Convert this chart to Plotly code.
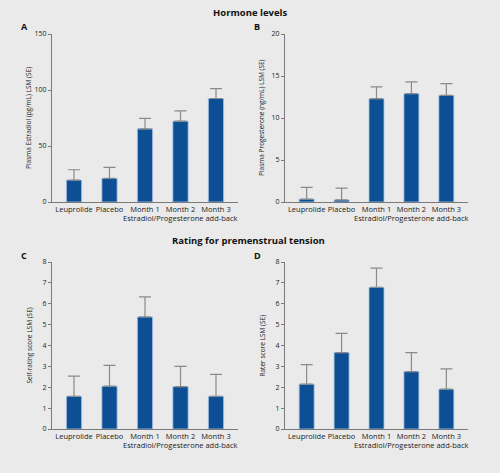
import plotly.graph_objects as go

categories = ["Leuprolide", "Placebo", "Month 1", "Month 2", "Month 3"]

estradiol = [19.6, 21.1, 65.3, 72.2, 92.4]
estradiol_se = [9.2, 9.8, 9.3, 9.2, 8.9]

progesterone = [0.35, 0.25, 12.3, 12.9, 12.7]
progesterone_se = [1.4, 1.4, 1.4, 1.4, 1.4]

self_rating = [1.57, 2.05, 5.37, 2.03, 1.57]
self_rating_se = [0.96, 1.0, 0.96, 0.97, 1.05]

rater = [2.15, 3.66, 6.79, 2.75, 1.91]
rater_se = [0.93, 0.92, 0.92, 0.91, 0.97]

panels = [
    dict(vals=estradiol, se=estradiol_se, rng=[0, 150], dt=50,
         ytitle="Plasma Estradiol (pg/mL) LSM (SE)", letter="A"),
    dict(vals=progesterone, se=progesterone_se, rng=[0, 20], dt=5,
         ytitle="Plasma Progesterone (ng/mL) LSM (SE)", letter="B"),
    dict(vals=self_rating, se=self_rating_se, rng=[0, 8], dt=1,
         ytitle="Self-rating score LSM (SE)", letter="C"),
    dict(vals=rater, se=rater_se, rng=[0, 8], dt=1,
         ytitle="Rater score LSM (SE)", letter="D"),
]

W, H = 500, 473
# pixel boxes: (left, right, top, bottom)
boxes = [(52, 238, 34, 202), (285, 468, 34, 202), (52, 238, 262, 429), (285, 468, 262, 429)]

BG = "#eaeaea"
BAR = "#0d4f95"
AXIS = "#7a7a7a"
FONT = "Open Sans"

fig = go.Figure()
annotations = []

for i, (p, b) in enumerate(zip(panels, boxes)):
    n = i + 1
    xa = "x" if n == 1 else f"x{n}"
    ya = "y" if n == 1 else f"y{n}"
    fig.add_trace(go.Bar(
        x=list(range(len(categories))), y=p["vals"],
        xaxis=xa, yaxis=ya, width=0.43,
        marker=dict(color=BAR, line=dict(color="#a9c6e6", width=0.8)),
        error_y=dict(type="data", array=p["se"], arrayminus=[0] * len(p["se"]),
                     symmetric=False, color="#8a8a8a", thickness=1.2, width=6),
        showlegend=False, hoverinfo="skip",
    ))
    l, r, t, bt = b
    xkey = "xaxis" if n == 1 else f"xaxis{n}"
    ykey = "yaxis" if n == 1 else f"yaxis{n}"
    fig.update_layout(**{
        xkey: dict(domain=[l / W, r / W], range=[-0.62, 4.62], anchor=ya,
                   automargin=False,
                   tickmode="array", tickvals=list(range(len(categories))),
                   ticktext=categories, ticks="", showgrid=False, zeroline=False,
                   showline=True, linecolor=AXIS, linewidth=1,
                   tickfont=dict(size=7.5, color="#222", family=FONT), fixedrange=True),
        ykey: dict(domain=[1 - bt / H, 1 - t / H], range=p["rng"], anchor=xa,
                   automargin=False,
                   dtick=p["dt"], tick0=0, ticks="outside", ticklen=3, tickwidth=1,
                   tickcolor=AXIS, showgrid=False, zeroline=False,
                   showline=True, linecolor=AXIS, linewidth=1,
                   tickfont=dict(size=7, color="#222", family=FONT), fixedrange=True),
    })
    # y title
    annotations.append(dict(x=(l - 23) / W, y=1 - ((t + bt) / 2) / H, xref="paper", yref="paper",
                            text=p["ytitle"], textangle=-90, showarrow=False,
                            xanchor="center", yanchor="middle",
                            font=dict(size=6.5, color="#222", family=FONT)))
    # panel letter
    annotations.append(dict(x=(l - 28) / W, y=1 - (t - 7) / H, xref="paper", yref="paper",
                            text="<b>" + p["letter"] + "</b>", showarrow=False,
                            xanchor="center", yanchor="middle",
                            font=dict(size=9, color="#111", family=FONT)))
    # group subtitle
    annotations.append(dict(x=3, y=1 - (bt + 16) / H, xref=xa, yref="paper",
                            text="Estradiol/Progesterone add-back", showarrow=False,
                            xanchor="center", yanchor="middle",
                            font=dict(size=7.5, color="#222", family=FONT)))

annotations.append(dict(x=0.5, y=1 - 13 / H, xref="paper", yref="paper",
                        text="<b>Hormone levels</b>", showarrow=False,
                        xanchor="center", yanchor="middle",
                        font=dict(size=9.5, color="#111", family=FONT)))
annotations.append(dict(x=0.496, y=1 - 240 / H, xref="paper", yref="paper",
                        text="<b>Rating for premenstrual tension</b>", showarrow=False,
                        xanchor="center", yanchor="middle",
                        font=dict(size=9.5, color="#111", family=FONT)))

fig.update_layout(template="none", width=W, height=H,
                  margin=dict(l=0, r=0, t=0, b=0, autoexpand=False),
                  paper_bgcolor=BG, plot_bgcolor=BG, annotations=annotations,
                  bargap=0.3)

fig.write_html("out.html", config={"displayModeBar": False, "staticPlot": True},
               post_script="document.body.style.margin='0';document.body.style.padding='0';")
